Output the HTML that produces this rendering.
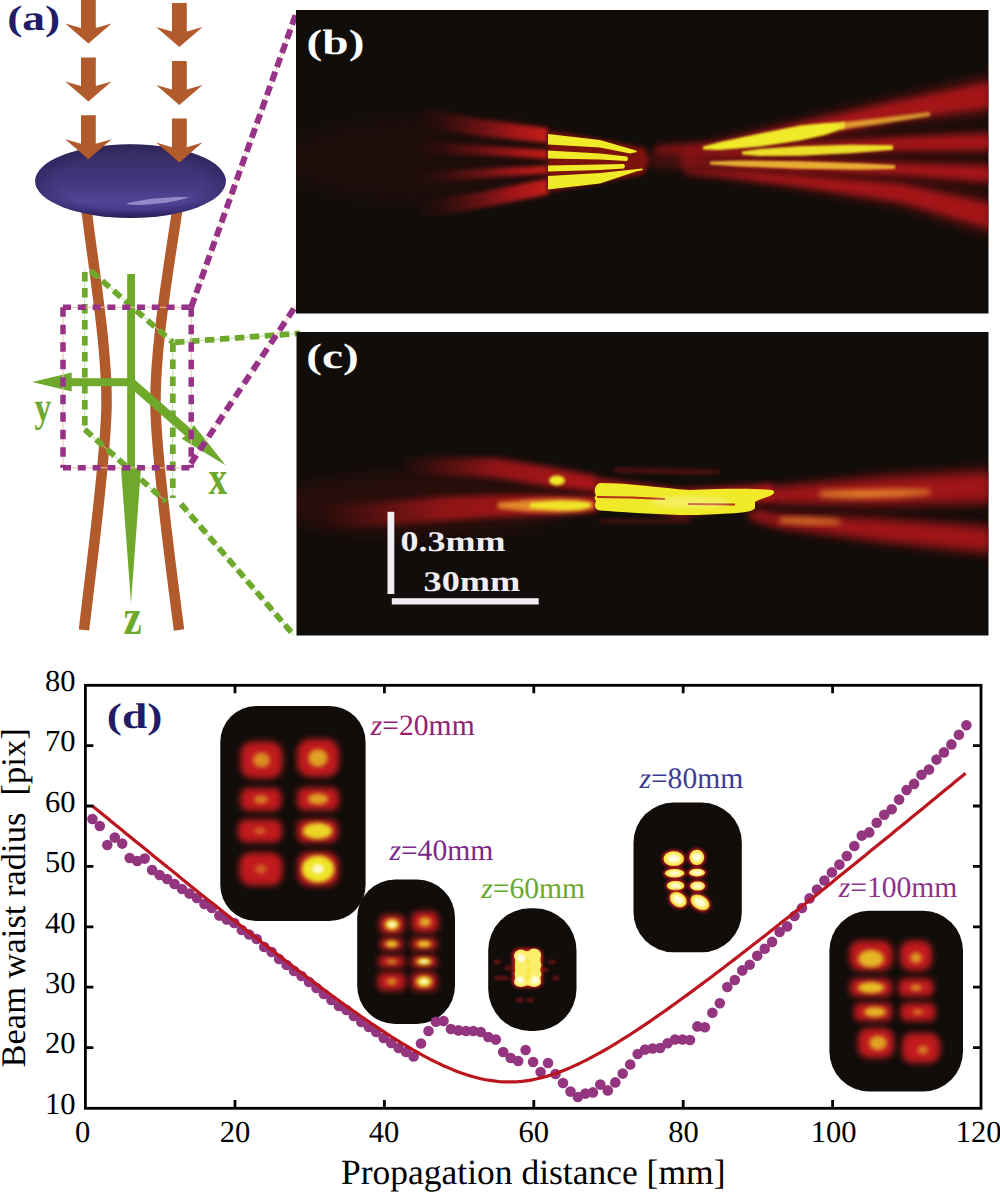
<!DOCTYPE html>
<html><head><meta charset="utf-8"><title>Figure</title>
<style>
html,body{margin:0;padding:0;background:#fff;}
svg{display:block;}
text{font-family:"Liberation Serif",serif;text-rendering:geometricPrecision;}
</style></head><body>
<svg width="1000" height="1192" viewBox="0 0 1000 1192">
<defs>
<filter id="b8" x="-50%" y="-50%" width="200%" height="200%" color-interpolation-filters="sRGB"><feGaussianBlur stdDeviation="8"/></filter>
<filter id="b5" x="-50%" y="-50%" width="200%" height="200%" color-interpolation-filters="sRGB"><feGaussianBlur stdDeviation="5"/></filter>
<filter id="b4" x="-50%" y="-50%" width="200%" height="200%" color-interpolation-filters="sRGB"><feGaussianBlur stdDeviation="4"/></filter>
<filter id="b3" x="-50%" y="-50%" width="200%" height="200%" color-interpolation-filters="sRGB"><feGaussianBlur stdDeviation="3"/></filter>
<filter id="b2" x="-50%" y="-50%" width="200%" height="200%" color-interpolation-filters="sRGB"><feGaussianBlur stdDeviation="2"/></filter>
<filter id="b15" x="-50%" y="-50%" width="200%" height="200%" color-interpolation-filters="sRGB"><feGaussianBlur stdDeviation="1.5"/></filter>
<filter id="b1" x="-50%" y="-50%" width="200%" height="200%" color-interpolation-filters="sRGB"><feGaussianBlur stdDeviation="1"/></filter>
<filter id="b07" x="-50%" y="-50%" width="200%" height="200%" color-interpolation-filters="sRGB"><feGaussianBlur stdDeviation="0.7"/></filter>
<linearGradient id="lens" x1="0" y1="0" x2="0" y2="1">
<stop offset="0" stop-color="#342a5e"/><stop offset="0.45" stop-color="#41347a"/><stop offset="0.78" stop-color="#514496"/><stop offset="0.9" stop-color="#45398a"/><stop offset="1" stop-color="#2c245a"/>
</linearGradient>
<radialGradient id="lensv" cx="0.5" cy="0.5" r="0.5">
<stop offset="0.75" stop-color="#1c1440" stop-opacity="0"/><stop offset="1" stop-color="#1c1440" stop-opacity="0.3"/>
</radialGradient>
<linearGradient id="fadeL" gradientUnits="userSpaceOnUse" x1="415" y1="0" x2="548" y2="0"><stop offset="0" stop-color="#b4171b" stop-opacity="0"/><stop offset="0.2" stop-color="#b4171b" stop-opacity="0.12"/><stop offset="0.45" stop-color="#b4171b" stop-opacity="0.45"/><stop offset="0.75" stop-color="#b4171b" stop-opacity="0.9"/><stop offset="1" stop-color="#c42018" stop-opacity="1"/></linearGradient>
<linearGradient id="fadeL2" gradientUnits="userSpaceOnUse" x1="400" y1="0" x2="597" y2="0"><stop offset="0" stop-color="#b4171b" stop-opacity="0"/><stop offset="0.5" stop-color="#b4171b" stop-opacity="0.85"/><stop offset="1" stop-color="#b4171b" stop-opacity="1"/></linearGradient>
<linearGradient id="fadeL3" gradientUnits="userSpaceOnUse" x1="320" y1="0" x2="597" y2="0"><stop offset="0" stop-color="#b4171b" stop-opacity="0"/><stop offset="0.45" stop-color="#b4171b" stop-opacity="0.8"/><stop offset="1" stop-color="#b4171b" stop-opacity="1"/></linearGradient>
<linearGradient id="fadeR" gradientUnits="userSpaceOnUse" x1="640" y1="0" x2="988" y2="0"><stop offset="0" stop-color="#b4171b" stop-opacity="0.5"/><stop offset="0.3" stop-color="#b4171b" stop-opacity="0.95"/><stop offset="1" stop-color="#b4171b" stop-opacity="0.95"/></linearGradient>
<clipPath id="cb"><rect x="296" y="10" width="692.5" height="303.5"/></clipPath>
<clipPath id="cc"><rect x="296.5" y="332" width="692" height="303.5"/></clipPath>
</defs>

<path d="M86,205 C92,260 110,360 106,420 C103,480 92,560 84,630" fill="none" stroke="#b15a2b" stroke-width="10.5"/>
<path d="M178,205 C170,260 152,360 156,420 C159,480 170,560 179,630" fill="none" stroke="#b15a2b" stroke-width="10.5"/>
<ellipse cx="130.5" cy="181.1" rx="95.4" ry="36.9" fill="url(#lens)"/>
<ellipse cx="130.5" cy="181.1" rx="95.4" ry="36.9" fill="url(#lensv)"/>
<path d="M126,203.5 C145,198.5 170,196.5 189,197 C180,201 160,204 140,205 C133,205 128,204.5 126,203.5 Z" fill="#a194d0" opacity="0.85" filter="url(#b07)"/>
<path d="M81.0,-0.5 L95.80000000000001,-0.5 L95.80000000000001,28.1 L111.60000000000001,23.5 L88.4,43.5 L65.2,23.5 L81.0,28.1 Z" fill="#b15a2b"/>
<path d="M81.0,57.400000000000006 L95.80000000000001,57.400000000000006 L95.80000000000001,86.0 L111.60000000000001,81.4 L88.4,101.4 L65.2,81.4 L81.0,86.0 Z" fill="#b15a2b"/>
<path d="M81.0,115.19999999999999 L95.80000000000001,115.19999999999999 L95.80000000000001,143.79999999999998 L111.60000000000001,139.2 L88.4,159.2 L65.2,139.2 L81.0,143.79999999999998 Z" fill="#b15a2b"/>
<path d="M171.95,3 L186.75,3 L186.75,31.6 L202.54999999999998,27 L179.35,47 L156.15,27 L171.95,31.6 Z" fill="#b15a2b"/>
<path d="M171.95,61 L186.75,61 L186.75,89.6 L202.54999999999998,85 L179.35,105 L156.15,85 L171.95,89.6 Z" fill="#b15a2b"/>
<path d="M171.95,118.6 L186.75,118.6 L186.75,147.2 L202.54999999999998,142.6 L179.35,162.6 L156.15,142.6 L171.95,147.2 Z" fill="#b15a2b"/>
<g fill="none" stroke="#b8dca0" stroke-width="1"><path d="M84.8,269 V429.5 L166,501.7"/><path d="M89.4,269 L172.8,342.4 V498"/><path d="M172.8,342.6 L300,333.3"/><path d="M181,504 L294,635.5"/></g>
<g fill="none" stroke="#6ea92b" stroke-width="5.8"><path d="M84.8,272 V429.5" stroke-dasharray="9.5 6.5"/><path d="M84.8,429.5 L166,501.7" stroke-dasharray="9.5 5.5"/><path d="M91,271 L172.8,342.4" stroke-dasharray="9.5 5.5"/><path d="M172.8,342.4 V498" stroke-dasharray="9.5 7.5"/><path d="M175,342.4 L300,333.3" stroke-dasharray="9.5 5.5"/><path d="M181,504 L294,635.5" stroke-dasharray="9.5 5"/></g>
<g fill="#6ea92b"><rect x="127.2" y="274" width="7.8" height="196"/><path d="M121,468 L141,468 L131,603 Z"/><rect x="70" y="378.2" width="65" height="8"/><path d="M71.7,372.4 L71.7,391.5 L32.1,382.1 Z"/></g>
<path d="M134.0,378.9 L191.1,429.0 L193.8,424.9 L225.6,465.2 L181.6,438.8 L185.2,435.8 L128.0,385.7 Z" fill="#6ea92b"/>
<g fill="none" stroke="#f2c0a8" stroke-width="1"><rect x="63" y="307.2" width="128.2" height="160.6"/><line x1="191.2" y1="307.2" x2="297" y2="11"/><line x1="190.8" y1="463.5" x2="296" y2="305.5"/></g>
<g fill="none" stroke="#963287" stroke-width="5.5"><path d="M63,307.2 H191.2" stroke-dasharray="8 6.8"/><path d="M63,467.8 H191.2" stroke-dasharray="8 6.8"/><path d="M63,307.2 V467.8" stroke-dasharray="9.5 8"/><path d="M191.2,307.2 V467.8" stroke-dasharray="9.5 8"/><path d="M191.2,307.2 L297,11" stroke-dasharray="10 5" stroke-width="6"/><path d="M190.8,463.5 L296,305.5" stroke-dasharray="10 6" stroke-width="6"/></g>
<text x="0" y="0" font-weight="bold" font-size="48" fill="#6ea92b" transform="translate(208.5,493.5) scale(0.78,1)">x</text>
<text x="0" y="0" font-weight="bold" font-size="42" fill="#6ea92b" transform="translate(34.5,421) scale(0.8,1)">y</text>
<text x="0" y="0" font-weight="bold" font-size="50" fill="#6ea92b" transform="translate(123.5,633.5) scale(0.82,1)">z</text>
<text x="0" y="0" font-weight="bold" font-size="35.5" fill="#201c68" transform="translate(7.2,30) scale(1.28,1)">(a)</text>
<rect x="296" y="10" width="692.5" height="303.5" fill="#110d0a"/>
<g clip-path="url(#cb)">
<ellipse cx="440" cy="160" rx="160" ry="45" fill="#b4171b" opacity="0.07" filter="url(#b8)"/>
<path d="M415.0,106.5 L481.0,119.2 L548.0,128.0 L548.0,143.0 L481.0,136.2 L415.0,125.5 Z" fill="url(#fadeL)" opacity="1.0" filter="url(#b2)"/>
<path d="M415.0,140.5 L494.0,146.5 L548.0,150.0 L548.0,159.0 L494.0,155.5 L415.0,153.5 Z" fill="url(#fadeL)" opacity="1.0" filter="url(#b2)"/>
<path d="M415.0,171.5 L494.0,168.0 L548.0,165.5 L548.0,173.5 L494.0,177.0 L415.0,184.5 Z" fill="url(#fadeL)" opacity="1.0" filter="url(#b2)"/>
<path d="M415.0,201.5 L481.0,192.0 L548.0,178.5 L548.0,194.5 L481.0,208.0 L415.0,220.5 Z" fill="url(#fadeL)" opacity="1.0" filter="url(#b2)"/>
<path d="M548,131 L600,139 L645,148 L648,160 L645,174 L600,183 L548,192 Z" fill="#7c120c" filter="url(#b2)"/>
<ellipse cx="672" cy="160" rx="30" ry="10" fill="#b4171b" opacity="0.28" filter="url(#b4)"/>
<polygon points="548,134 600,140 636,150.5 637,152 630,153.5 600,147.5 548,144.5" fill="#f0ea28" filter="url(#b07)"/>
<polygon points="548,150.5 600,153.5 627,156.5 628,158.8 627,161 600,159.5 548,158.6" fill="#f0ea28" filter="url(#b07)"/>
<polygon points="548,165.5 600,164.6 624,164 625,166.2 624,168.5 600,170 548,171.5" fill="#f0ea28" filter="url(#b07)"/>
<polygon points="548,176 600,173 642,168.5 643,170 636,171.5 600,183.5 548,189.5" fill="#f0ea28" filter="url(#b07)"/>
<path d="M655.0,145.2 L712.0,140.4 L800.0,117.8 L900.0,94.4 L990.0,73.4 L990.0,116.6 L900.0,125.6 L800.0,144.2 L712.0,153.6 L655.0,154.8 Z" fill="#b4171b" opacity="0.35" filter="url(#b5)"/>
<path d="M680.0,151.4 L740.0,147.6 L800.0,141.1 L900.0,133.2 L990.0,128.8 L990.0,155.2 L900.0,154.8 L800.0,157.9 L740.0,158.4 L680.0,158.6 Z" fill="#b4171b" opacity="0.35" filter="url(#b5)"/>
<path d="M680.0,159.4 L716.0,158.7 L800.0,157.1 L900.0,159.4 L990.0,160.8 L990.0,187.2 L900.0,178.6 L800.0,173.9 L716.0,168.3 L680.0,166.6 Z" fill="#b4171b" opacity="0.35" filter="url(#b5)"/>
<path d="M685.0,167.4 L740.0,169.0 L800.0,172.0 L900.0,178.6 L990.0,195.6 L990.0,236.4 L900.0,207.4 L800.0,190.0 L740.0,181.0 L685.0,174.6 Z" fill="#b4171b" opacity="0.35" filter="url(#b5)"/>
<path d="M655.0,147.2 L712.0,143.2 L800.0,123.3 L900.0,100.9 L990.0,82.4 L990.0,107.6 L900.0,119.1 L800.0,138.7 L712.0,150.8 L655.0,152.8 Z" fill="url(#fadeR)" opacity="0.9" filter="url(#b3)"/>
<path d="M680.0,152.9 L740.0,149.8 L800.0,144.6 L900.0,137.7 L990.0,134.3 L990.0,149.7 L900.0,150.3 L800.0,154.4 L740.0,156.2 L680.0,157.1 Z" fill="url(#fadeR)" opacity="0.9" filter="url(#b3)"/>
<path d="M680.0,160.9 L716.0,160.7 L800.0,160.6 L900.0,163.4 L990.0,166.3 L990.0,181.7 L900.0,174.6 L800.0,170.4 L716.0,166.3 L680.0,165.1 Z" fill="url(#fadeR)" opacity="0.9" filter="url(#b3)"/>
<path d="M685.0,168.9 L740.0,171.5 L800.0,175.8 L900.0,184.6 L990.0,204.1 L990.0,227.9 L900.0,201.4 L800.0,186.2 L740.0,178.5 L685.0,173.1 Z" fill="url(#fadeR)" opacity="0.9" filter="url(#b3)"/>
<path d="M703.0,146.5 L720.0,142.0 L760.0,133.5 L800.0,125.5 L825.0,123.0 L845.0,122.0 L845.0,128.0 L825.0,135.0 L800.0,140.5 L760.0,146.5 L720.0,150.0 L703.0,149.5 Z" fill="#f0ea28" opacity="1.0" filter="url(#b1)"/>
<path d="M840.0,122.5 L880.0,118.0 L930.0,112.0 L930.0,116.0 L880.0,124.0 L840.0,129.5 Z" fill="#f8c838" opacity="0.75" filter="url(#b15)"/>
<path d="M742.0,151.5 L760.0,149.0 L800.0,146.2 L850.0,144.8 L893.0,145.3 L893.0,149.7 L850.0,153.2 L800.0,155.8 L760.0,156.0 L742.0,154.5 Z" fill="#f0ea28" opacity="0.95" filter="url(#b1)"/>
<path d="M710.0,161.5 L740.0,160.5 L800.0,161.2 L860.0,163.3 L895.0,165.0 L895.0,169.0 L860.0,169.7 L800.0,168.8 L740.0,166.5 L710.0,164.5 Z" fill="#f8c838" opacity="0.85" filter="url(#b1)"/>
</g>
<text x="0" y="0" font-weight="bold" font-size="35.3" fill="#fff" transform="translate(306.6,53.8) scale(1.34,1)">(b)</text>
<rect x="296.5" y="332" width="692" height="303.5" fill="#110d0a"/>
<g clip-path="url(#cc)">
<ellipse cx="420" cy="505" rx="150" ry="32" fill="#b4171b" opacity="0.14" filter="url(#b8)"/>
<path d="M400.0,457.0 L496.0,458.0 L550.0,467.0 L597.0,476.0 L597.0,492.0 L550.0,487.0 L496.0,478.0 L400.0,473.0 Z" fill="url(#fadeL2)" opacity="0.95" filter="url(#b3)"/>
<path d="M300.0,506.0 L380.0,502.0 L440.0,497.0 L496.0,495.0 L550.0,495.0 L597.0,496.0 L597.0,512.0 L550.0,515.0 L496.0,517.0 L440.0,521.0 L380.0,526.0 L300.0,530.0 Z" fill="url(#fadeL3)" opacity="0.95" filter="url(#b3)"/>
<path d="M498.0,502.5 L530.0,499.5 L560.0,498.5 L580.0,499.5 L594.0,502.0 L594.0,508.0 L580.0,511.5 L560.0,512.5 L530.0,511.5 L498.0,508.5 Z" fill="#f0a030" opacity="0.85" filter="url(#b2)"/>
<path d="M530.0,503.0 L560.0,501.0 L578.0,501.5 L590.0,503.0 L590.0,507.0 L578.0,509.5 L560.0,510.0 L530.0,508.0 Z" fill="#f0ea28" opacity="0.95" filter="url(#b15)"/>
<ellipse cx="557" cy="480.5" rx="8" ry="5" fill="#f0ea28" filter="url(#b15)"/>
<path d="M615.0,468.0 L700.0,470.0 L720.0,470.5 L720.0,473.5 L700.0,474.0 L615.0,472.0 Z" fill="#b4171b" opacity="0.5" filter="url(#b2)"/>
<path d="M600.0,519.0 L690.0,519.0 L690.0,523.0 L600.0,523.0 Z" fill="#b4171b" opacity="0.35" filter="url(#b2)"/>
<path d="M760.0,486.8 L780.0,484.2 L880.0,473.0 L990.0,466.6 L990.0,507.4 L880.0,509.0 L780.0,505.8 L760.0,501.2 Z" fill="#b4171b" opacity="0.4" filter="url(#b5)"/>
<path d="M750.0,508.0 L780.0,512.6 L880.0,515.6 L990.0,523.2 L990.0,556.8 L880.0,544.4 L780.0,529.4 L750.0,520.0 Z" fill="#b4171b" opacity="0.4" filter="url(#b5)"/>
<path d="M760.0,489.5 L780.0,488.2 L880.0,479.8 L990.0,474.2 L990.0,499.8 L880.0,502.2 L780.0,501.8 L760.0,498.5 Z" fill="#b4171b" opacity="0.8" filter="url(#b4)"/>
<path d="M750.0,510.2 L780.0,515.8 L880.0,521.0 L990.0,529.5 L990.0,550.5 L880.0,539.0 L780.0,526.2 L750.0,517.8 Z" fill="#b4171b" opacity="0.8" filter="url(#b4)"/>
<path d="M820.0,491.5 L860.0,490.0 L900.0,489.5 L930.0,490.0 L930.0,494.0 L900.0,496.5 L860.0,498.0 L820.0,496.5 Z" fill="#f4a030" opacity="0.85" filter="url(#b3)"/>
<path d="M780.0,517.5 L810.0,518.0 L840.0,520.0 L840.0,524.0 L810.0,524.0 L780.0,522.5 Z" fill="#f4a030" opacity="0.8" filter="url(#b3)"/>
<path d="M596.0,478.0 L680.0,489.0 L772.0,484.0 L772.0,500.0 L680.0,517.0 L596.0,498.0 Z" fill="#b4171b" opacity="0.9" filter="url(#b3)"/>
<path d="M600,483 C630,483 660,488 690,490 C720,489 750,488 772,490 C776,492 774,494 770,496 C764,498 758,500 755,502 L755,508 C753,512 740,513 720,514 C705,515 690,515 680,515 C650,514 620,512 600,510.5 C595,510 594,505 596,501 C594,498 594,497 596,496 C594,492 594,485 600,483 Z" fill="#f0ea28" filter="url(#b07)"/>
<path d="M597,497 C620,497 640,497.5 665,499 M688,504 L735,504.5" stroke="#b01c14" stroke-width="2.2" fill="none" opacity="0.9" filter="url(#b07)"/>
<ellipse cx="690" cy="502" rx="40" ry="6" fill="#fff8c8" opacity="0.35" filter="url(#b2)"/>
</g>
<text x="0" y="0" font-weight="bold" font-size="35.3" fill="#fff" transform="translate(306.2,367.6) scale(1.34,1)">(c)</text>
<rect x="387.5" y="511.8" width="6.8" height="82.2" fill="#f0eef2"/>
<rect x="391.8" y="598.2" width="146.9" height="6.3" fill="#f0eef2"/>
<text x="0" y="0" font-weight="bold" font-size="28.5" fill="#f0eef2" transform="translate(400.5,551.3) scale(1.264,1)">0.3mm</text>
<text x="0" y="0" font-weight="bold" font-size="28.5" fill="#f0eef2" transform="translate(423.5,591) scale(1.273,1)">30mm</text>
<rect x="220.3" y="706" width="145.3" height="215.0" rx="36" ry="36" fill="#110d0a"/>
<rect x="357.2" y="879.5" width="97.8" height="144.5" rx="38" ry="38" fill="#110d0a"/>
<rect x="488.2" y="908.2" width="88.3" height="122.8" rx="42" ry="42" fill="#110d0a"/>
<rect x="633.5" y="802.6" width="108.3" height="149.6" rx="40" ry="40" fill="#110d0a"/>
<rect x="829.4" y="910.7" width="133.6" height="180.8" rx="40" ry="40" fill="#110d0a"/>
<rect x="240.5" y="741.5" width="42.0" height="37.0" rx="12.9" fill="#c01a1e" filter="url(#b3)"/><ellipse cx="261.5" cy="760.0" rx="8.7" ry="7.6" fill="#f0ea28" opacity="0.55" filter="url(#b2)"/>
<rect x="297.0" y="739.0" width="42.0" height="38.0" rx="13.3" fill="#c01a1e" filter="url(#b3)"/><ellipse cx="318.0" cy="758.0" rx="9.8" ry="8.9" fill="#f0ea28" opacity="0.65" filter="url(#b2)"/>
<rect x="240.5" y="788.0" width="41.0" height="23.0" rx="8.0" fill="#c01a1e" filter="url(#b3)"/><ellipse cx="261.0" cy="799.5" rx="7.2" ry="4.0" fill="#f0ea28" opacity="0.50" filter="url(#b2)"/>
<rect x="297.0" y="787.5" width="42.0" height="23.0" rx="8.0" fill="#c01a1e" filter="url(#b3)"/><ellipse cx="318.0" cy="799.0" rx="10.3" ry="5.6" fill="#f0ea28" opacity="0.65" filter="url(#b2)"/>
<rect x="238.0" y="819.5" width="44.0" height="23.0" rx="8.0" fill="#c01a1e" filter="url(#b3)"/><ellipse cx="260.0" cy="831.0" rx="6.1" ry="3.2" fill="#f0ea28" opacity="0.35" filter="url(#b2)"/>
<rect x="297.0" y="819.5" width="41.0" height="23.0" rx="8.0" fill="#c01a1e" filter="url(#b3)"/><ellipse cx="317.5" cy="831.0" rx="14.7" ry="8.2" fill="#f0ea28" opacity="0.90" filter="url(#b2)"/>
<rect x="239.5" y="852.5" width="43.0" height="33.0" rx="11.5" fill="#c01a1e" filter="url(#b3)"/><ellipse cx="261.0" cy="869.0" rx="5.9" ry="4.5" fill="#f0ea28" opacity="0.35" filter="url(#b2)"/>
<rect x="297.5" y="852.0" width="41.0" height="34.0" rx="11.9" fill="#c01a1e" filter="url(#b3)"/><ellipse cx="318.0" cy="869.0" rx="16.3" ry="13.5" fill="#f0ea28" opacity="0.98" filter="url(#b2)"/><ellipse cx="318" cy="869" rx="6.1" ry="5.1" fill="#fffbe0" opacity="0.8" filter="url(#b15)"/>
<rect x="379.5" y="914.9" width="25.0" height="19.0" rx="6.6" fill="#c01a1e" filter="url(#b3)"/><ellipse cx="392.0" cy="924.4" rx="7.2" ry="5.5" fill="#f0ea28" opacity="0.95" filter="url(#b2)"/><ellipse cx="392" cy="924.4" rx="3.8" ry="2.9" fill="#fffbe0" opacity="0.8" filter="url(#b15)"/>
<rect x="411.5" y="911.5" width="27.0" height="21.0" rx="7.3" fill="#c01a1e" filter="url(#b3)"/><ellipse cx="425.0" cy="922.0" rx="6.1" ry="4.7" fill="#f0ea28" opacity="0.70" filter="url(#b2)"/>
<rect x="380.1" y="938.2" width="23.0" height="11.6" rx="4.1" fill="#c01a1e" filter="url(#b3)"/><ellipse cx="391.6" cy="944.0" rx="6.3" ry="3.2" fill="#f0ea28" opacity="0.90" filter="url(#b2)"/>
<rect x="411.0" y="938.2" width="26.0" height="11.6" rx="4.1" fill="#c01a1e" filter="url(#b3)"/><ellipse cx="424.0" cy="944.0" rx="7.2" ry="3.2" fill="#f0ea28" opacity="0.90" filter="url(#b2)"/>
<rect x="378.6" y="955.7" width="26.0" height="11.6" rx="4.1" fill="#c01a1e" filter="url(#b3)"/><ellipse cx="391.6" cy="961.5" rx="5.2" ry="2.3" fill="#f0ea28" opacity="0.60" filter="url(#b2)"/>
<rect x="411.0" y="955.7" width="26.0" height="11.6" rx="4.1" fill="#c01a1e" filter="url(#b3)"/><ellipse cx="424.0" cy="961.5" rx="7.6" ry="3.4" fill="#f0ea28" opacity="0.97" filter="url(#b2)"/><ellipse cx="424" cy="961.5" rx="3.9" ry="1.7" fill="#fffbe0" opacity="0.8" filter="url(#b15)"/>
<rect x="377.6" y="972.6" width="28.0" height="18.0" rx="6.3" fill="#c01a1e" filter="url(#b3)"/><ellipse cx="391.6" cy="981.6" rx="5.2" ry="3.4" fill="#f0ea28" opacity="0.55" filter="url(#b2)"/>
<rect x="411.0" y="972.6" width="26.0" height="18.0" rx="6.3" fill="#c01a1e" filter="url(#b3)"/><ellipse cx="424.0" cy="981.6" rx="7.8" ry="5.4" fill="#f0ea28" opacity="1.00" filter="url(#b2)"/><ellipse cx="424" cy="981.6" rx="3.9" ry="2.7" fill="#fffbe0" opacity="0.8" filter="url(#b15)"/>
<rect x="512" y="948" width="31" height="40" rx="7" fill="#b4171b" filter="url(#b15)"/>
<rect x="515" y="951" width="25.5" height="34.5" rx="6" fill="#f6e440" filter="url(#b07)"/>
<ellipse cx="521" cy="956" rx="7" ry="6.5" fill="#fbef6a" filter="url(#b07)"/>
<ellipse cx="534" cy="955" rx="7" ry="6.5" fill="#fbef6a" filter="url(#b07)"/>
<ellipse cx="522" cy="966" rx="6.5" ry="5" fill="#fbef6a" filter="url(#b07)"/>
<ellipse cx="535" cy="965" rx="6.5" ry="5" fill="#fbef6a" filter="url(#b07)"/>
<ellipse cx="521" cy="974" rx="6.5" ry="5" fill="#fbef6a" filter="url(#b07)"/>
<ellipse cx="535" cy="974" rx="6.5" ry="5" fill="#fbef6a" filter="url(#b07)"/>
<ellipse cx="521" cy="982" rx="7" ry="5" fill="#fbef6a" filter="url(#b07)"/>
<ellipse cx="534" cy="982" rx="7" ry="5" fill="#fbef6a" filter="url(#b07)"/>
<ellipse cx="521" cy="958" rx="4" ry="4" fill="#fffbe0" filter="url(#b1)"/><ellipse cx="535" cy="980" rx="4" ry="4" fill="#fffbe0" filter="url(#b1)"/><ellipse cx="520" cy="980" rx="4" ry="3.5" fill="#fffbe0" filter="url(#b1)"/>
<ellipse cx="497" cy="962" rx="4" ry="2.5" fill="#b4171b" opacity="0.45" filter="url(#b1)"/>
<ellipse cx="505" cy="978" rx="4" ry="2.5" fill="#b4171b" opacity="0.45" filter="url(#b1)"/>
<ellipse cx="552" cy="962" rx="4" ry="2.5" fill="#b4171b" opacity="0.45" filter="url(#b1)"/>
<ellipse cx="556" cy="978" rx="4" ry="2.5" fill="#b4171b" opacity="0.45" filter="url(#b1)"/>
<ellipse cx="520" cy="1000" rx="4" ry="2.5" fill="#b4171b" opacity="0.45" filter="url(#b1)"/>
<ellipse cx="530" cy="1000" rx="4" ry="2.5" fill="#b4171b" opacity="0.45" filter="url(#b1)"/>
<ellipse cx="498" cy="978" rx="4" ry="2.5" fill="#b4171b" opacity="0.45" filter="url(#b1)"/>
<ellipse cx="545" cy="970" rx="4" ry="2.5" fill="#b4171b" opacity="0.45" filter="url(#b1)"/>
<ellipse cx="508" cy="968" rx="4" ry="2.5" fill="#b4171b" opacity="0.45" filter="url(#b1)"/>
<ellipse cx="673.7" cy="858.7" rx="12.0" ry="9.2" fill="#b4171b" filter="url(#b15)"/><ellipse cx="673.7" cy="858.7" rx="10.2" ry="7.4" fill="#fbe84a" filter="url(#b07)"/><ellipse cx="673.7" cy="858.7" rx="6.6" ry="4.4" fill="#fffbd8" filter="url(#b1)"/>
<ellipse cx="696.8" cy="857.3" rx="9.2" ry="9.4" fill="#b4171b" filter="url(#b15)"/><ellipse cx="696.8" cy="857.3" rx="7.4" ry="7.6" fill="#fbe84a" filter="url(#b07)"/><ellipse cx="696.8" cy="857.3" rx="4.8" ry="4.6" fill="#fffbd8" filter="url(#b1)"/>
<ellipse cx="674.6" cy="873.3" rx="11.5" ry="6.0" fill="#b4171b" filter="url(#b15)"/><ellipse cx="674.6" cy="873.3" rx="9.7" ry="4.2" fill="#fbe84a" filter="url(#b07)"/><ellipse cx="674.6" cy="873.3" rx="6.3" ry="2.5" fill="#fffbd8" filter="url(#b1)"/>
<ellipse cx="697" cy="872.6" rx="9.8" ry="5.6" fill="#b4171b" filter="url(#b15)"/><ellipse cx="697" cy="872.6" rx="8.0" ry="3.8" fill="#fbe84a" filter="url(#b07)"/><ellipse cx="697" cy="872.6" rx="5.2" ry="2.3" fill="#fffbd8" filter="url(#b1)"/>
<ellipse cx="675.6" cy="885.7" rx="10.5" ry="6.6" fill="#b4171b" filter="url(#b15)"/><ellipse cx="675.6" cy="885.7" rx="8.7" ry="4.8" fill="#fbe84a" filter="url(#b07)"/><ellipse cx="675.6" cy="885.7" rx="5.7" ry="2.9" fill="#fffbd8" filter="url(#b1)"/>
<ellipse cx="697.6" cy="886" rx="9.2" ry="6.3" fill="#b4171b" filter="url(#b15)"/><ellipse cx="697.6" cy="886" rx="7.4" ry="4.5" fill="#fbe84a" filter="url(#b07)"/><ellipse cx="697.6" cy="886" rx="4.8" ry="2.7" fill="#fffbd8" filter="url(#b1)"/>
<ellipse cx="678.2" cy="899.6" rx="10.8" ry="8.6" fill="#b4171b" filter="url(#b15)" transform="rotate(35 678.2 899.6)"/><ellipse cx="678.2" cy="899.6" rx="9.0" ry="6.8" fill="#fbe84a" filter="url(#b07)" transform="rotate(35 678.2 899.6)"/><ellipse cx="678.2" cy="899.6" rx="5.9" ry="4.1" fill="#fffbd8" filter="url(#b1)" transform="rotate(35 678.2 899.6)"/>
<ellipse cx="700" cy="902.4" rx="11.8" ry="8.6" fill="#b4171b" filter="url(#b15)" transform="rotate(30 700 902.4)"/><ellipse cx="700" cy="902.4" rx="10.0" ry="6.8" fill="#fbe84a" filter="url(#b07)" transform="rotate(30 700 902.4)"/><ellipse cx="700" cy="902.4" rx="6.5" ry="4.1" fill="#fffbd8" filter="url(#b1)" transform="rotate(30 700 902.4)"/>
<rect x="849.5" y="940.7" width="43.0" height="30.0" rx="10.5" fill="#c01a1e" filter="url(#b3)"/><ellipse cx="871.0" cy="958.7" rx="12.8" ry="8.9" fill="#f0ea28" opacity="0.75" filter="url(#b2)"/>
<rect x="900.0" y="940.7" width="32.0" height="30.0" rx="10.5" fill="#c01a1e" filter="url(#b3)"/><ellipse cx="916.0" cy="957.7" rx="5.8" ry="5.4" fill="#f0ea28" opacity="0.60" filter="url(#b2)"/>
<rect x="850.0" y="978.6" width="42.0" height="18.0" rx="6.3" fill="#c01a1e" filter="url(#b3)"/><ellipse cx="871.0" cy="987.6" rx="13.1" ry="5.6" fill="#f0ea28" opacity="0.80" filter="url(#b2)"/>
<rect x="898.5" y="978.6" width="35.0" height="18.0" rx="6.3" fill="#c01a1e" filter="url(#b3)"/><ellipse cx="916.0" cy="987.6" rx="5.9" ry="3.0" fill="#f0ea28" opacity="0.55" filter="url(#b2)"/>
<rect x="854.0" y="1003.0" width="38.0" height="18.0" rx="6.3" fill="#c01a1e" filter="url(#b3)"/><ellipse cx="875.0" cy="1012.0" rx="10.8" ry="5.1" fill="#f0ea28" opacity="0.75" filter="url(#b2)"/>
<rect x="900.5" y="1003.0" width="35.0" height="18.0" rx="6.3" fill="#c01a1e" filter="url(#b3)"/><ellipse cx="918.0" cy="1012.0" rx="5.1" ry="2.6" fill="#f0ea28" opacity="0.45" filter="url(#b2)"/>
<rect x="858.0" y="1028.0" width="36.0" height="30.0" rx="10.5" fill="#c01a1e" filter="url(#b3)"/><ellipse cx="878.0" cy="1043.0" rx="8.8" ry="7.3" fill="#f0ea28" opacity="0.65" filter="url(#b2)"/>
<rect x="902.0" y="1033.0" width="38.0" height="30.0" rx="10.5" fill="#c01a1e" filter="url(#b3)"/><ellipse cx="923.0" cy="1050.0" rx="5.6" ry="4.4" fill="#f0ea28" opacity="0.45" filter="url(#b2)"/>
<g fill="#93367f">
<circle cx="92.4" cy="819" r="5.3"/>
<circle cx="99.8" cy="826" r="5.3"/>
<circle cx="107.3" cy="845" r="5.3"/>
<circle cx="114.8" cy="837.6" r="5.3"/>
<circle cx="122.2" cy="843.6" r="5.3"/>
<circle cx="129.7" cy="858" r="5.3"/>
<circle cx="137.2" cy="861" r="5.3"/>
<circle cx="144.7" cy="858.6" r="5.3"/>
<circle cx="152.1" cy="870" r="5.3"/>
<circle cx="159.6" cy="875" r="5.3"/>
<circle cx="167.1" cy="879" r="5.3"/>
<circle cx="174.5" cy="884" r="5.3"/>
<circle cx="182.0" cy="889" r="5.3"/>
<circle cx="189.5" cy="893.6" r="5.3"/>
<circle cx="196.9" cy="898" r="5.3"/>
<circle cx="204.4" cy="904" r="5.3"/>
<circle cx="211.9" cy="908" r="5.3"/>
<circle cx="219.4" cy="915.6" r="5.3"/>
<circle cx="226.8" cy="919.6" r="5.3"/>
<circle cx="234.3" cy="923" r="5.3"/>
<circle cx="241.8" cy="930" r="5.3"/>
<circle cx="249.2" cy="934.5" r="5.3"/>
<circle cx="256.7" cy="939" r="5.3"/>
<circle cx="264.2" cy="947" r="5.3"/>
<circle cx="271.6" cy="952" r="5.3"/>
<circle cx="279.1" cy="959" r="5.3"/>
<circle cx="286.6" cy="965" r="5.3"/>
<circle cx="294.1" cy="971" r="5.3"/>
<circle cx="301.5" cy="976" r="5.3"/>
<circle cx="309.0" cy="982" r="5.3"/>
<circle cx="316.5" cy="988" r="5.3"/>
<circle cx="323.9" cy="994" r="5.3"/>
<circle cx="331.4" cy="1000" r="5.3"/>
<circle cx="338.9" cy="1006" r="5.3"/>
<circle cx="346.4" cy="1010" r="5.3"/>
<circle cx="353.8" cy="1016" r="5.3"/>
<circle cx="361.3" cy="1022" r="5.3"/>
<circle cx="368.8" cy="1027" r="5.3"/>
<circle cx="376.2" cy="1032" r="5.3"/>
<circle cx="383.7" cy="1038" r="5.3"/>
<circle cx="391.2" cy="1043" r="5.3"/>
<circle cx="398.6" cy="1048" r="5.3"/>
<circle cx="406.1" cy="1052" r="5.3"/>
<circle cx="413.6" cy="1056.5" r="5.3"/>
<circle cx="421.0" cy="1043.5" r="5.3"/>
<circle cx="428.5" cy="1031" r="5.3"/>
<circle cx="436.0" cy="1021.8" r="5.3"/>
<circle cx="443.5" cy="1021" r="5.3"/>
<circle cx="450.9" cy="1029" r="5.3"/>
<circle cx="458.4" cy="1030.4" r="5.3"/>
<circle cx="465.9" cy="1031" r="5.3"/>
<circle cx="473.3" cy="1031" r="5.3"/>
<circle cx="480.8" cy="1032" r="5.3"/>
<circle cx="488.3" cy="1037" r="5.3"/>
<circle cx="495.8" cy="1039.6" r="5.3"/>
<circle cx="503.2" cy="1052" r="5.3"/>
<circle cx="510.7" cy="1058" r="5.3"/>
<circle cx="518.2" cy="1061" r="5.3"/>
<circle cx="525.6" cy="1050" r="5.3"/>
<circle cx="533.1" cy="1062" r="5.3"/>
<circle cx="540.6" cy="1072" r="5.3"/>
<circle cx="548.0" cy="1063" r="5.3"/>
<circle cx="555.5" cy="1074" r="5.3"/>
<circle cx="563.0" cy="1083" r="5.3"/>
<circle cx="570.5" cy="1091.6" r="5.3"/>
<circle cx="577.9" cy="1097" r="5.3"/>
<circle cx="585.4" cy="1093.6" r="5.3"/>
<circle cx="592.9" cy="1092.4" r="5.3"/>
<circle cx="600.3" cy="1084.6" r="5.3"/>
<circle cx="607.8" cy="1090.4" r="5.3"/>
<circle cx="615.3" cy="1082.4" r="5.3"/>
<circle cx="622.7" cy="1073.6" r="5.3"/>
<circle cx="630.2" cy="1064.5" r="5.3"/>
<circle cx="637.7" cy="1054" r="5.3"/>
<circle cx="645.1" cy="1049.6" r="5.3"/>
<circle cx="652.6" cy="1048.5" r="5.3"/>
<circle cx="660.1" cy="1048" r="5.3"/>
<circle cx="667.6" cy="1043.2" r="5.3"/>
<circle cx="675.0" cy="1039.5" r="5.3"/>
<circle cx="682.5" cy="1039.5" r="5.3"/>
<circle cx="690.0" cy="1040" r="5.3"/>
<circle cx="697.4" cy="1026.4" r="5.3"/>
<circle cx="704.9" cy="1027.2" r="5.3"/>
<circle cx="712.4" cy="1012.8" r="5.3"/>
<circle cx="719.8" cy="1003.2" r="5.3"/>
<circle cx="727.3" cy="987" r="5.3"/>
<circle cx="734.8" cy="980" r="5.3"/>
<circle cx="742.3" cy="970.4" r="5.3"/>
<circle cx="749.7" cy="964.8" r="5.3"/>
<circle cx="757.2" cy="955.7" r="5.3"/>
<circle cx="764.7" cy="948.8" r="5.3"/>
<circle cx="772.1" cy="941.9" r="5.3"/>
<circle cx="779.6" cy="932" r="5.3"/>
<circle cx="787.1" cy="926.4" r="5.3"/>
<circle cx="794.5" cy="916" r="5.3"/>
<circle cx="802.0" cy="908" r="5.3"/>
<circle cx="809.5" cy="898.4" r="5.3"/>
<circle cx="817.0" cy="889.6" r="5.3"/>
<circle cx="824.4" cy="880.5" r="5.3"/>
<circle cx="831.9" cy="872.4" r="5.3"/>
<circle cx="839.4" cy="864.6" r="5.3"/>
<circle cx="846.8" cy="856" r="5.3"/>
<circle cx="854.3" cy="846" r="5.3"/>
<circle cx="861.8" cy="835.6" r="5.3"/>
<circle cx="869.2" cy="832.4" r="5.3"/>
<circle cx="876.7" cy="822.8" r="5.3"/>
<circle cx="884.2" cy="814.8" r="5.3"/>
<circle cx="891.7" cy="809.2" r="5.3"/>
<circle cx="899.1" cy="799.6" r="5.3"/>
<circle cx="906.6" cy="790" r="5.3"/>
<circle cx="914.1" cy="783.9" r="5.3"/>
<circle cx="921.5" cy="774.8" r="5.3"/>
<circle cx="929.0" cy="769.5" r="5.3"/>
<circle cx="936.5" cy="759.6" r="5.3"/>
<circle cx="943.9" cy="752.4" r="5.3"/>
<circle cx="951.4" cy="744.4" r="5.3"/>
<circle cx="958.9" cy="734.8" r="5.3"/>
<circle cx="966.4" cy="725.2" r="5.3"/>
</g>
<polyline points="92.3,805.9 96.1,808.9 99.8,812.0 103.5,815.1 107.3,818.1 111.0,821.2 114.7,824.2 118.5,827.3 122.2,830.3 125.9,833.4 129.7,836.4 133.4,839.5 137.1,842.5 140.9,845.6 144.6,848.6 148.3,851.6 152.1,854.7 155.8,857.7 159.6,860.7 163.3,863.8 167.0,866.8 170.8,869.8 174.5,872.8 178.2,875.8 182.0,878.9 185.7,881.9 189.4,884.9 193.2,887.9 196.9,890.9 200.6,893.9 204.4,896.9 208.1,899.9 211.8,902.8 215.6,905.8 219.3,908.8 223.0,911.8 226.8,914.7 230.5,917.7 234.3,920.7 238.0,923.6 241.7,926.6 245.5,929.5 249.2,932.4 252.9,935.4 256.7,938.3 260.4,941.2 264.1,944.1 267.9,947.0 271.6,949.9 275.3,952.8 279.1,955.7 282.8,958.6 286.5,961.5 290.3,964.3 294.0,967.2 297.7,970.0 301.5,972.9 305.2,975.7 309.0,978.5 312.7,981.3 316.4,984.1 320.2,986.9 323.9,989.7 327.6,992.4 331.4,995.2 335.1,997.9 338.8,1000.6 342.6,1003.3 346.3,1006.0 350.0,1008.6 353.8,1011.3 357.5,1013.9 361.2,1016.5 365.0,1019.1 368.7,1021.6 372.4,1024.2 376.2,1026.7 379.9,1029.2 383.7,1031.6 387.4,1034.1 391.1,1036.5 394.9,1038.8 398.6,1041.2 402.3,1043.5 406.1,1045.7 409.8,1047.9 413.5,1050.1 417.3,1052.2 421.0,1054.3 424.7,1056.4 428.5,1058.3 432.2,1060.3 435.9,1062.1 439.7,1063.9 443.4,1065.7 447.1,1067.3 450.9,1068.9 454.6,1070.5 458.4,1071.9 462.1,1073.3 465.8,1074.5 469.6,1075.7 473.3,1076.8 477.0,1077.8 480.8,1078.7 484.5,1079.5 488.2,1080.2 492.0,1080.7 495.7,1081.2 499.4,1081.6 503.2,1081.8 506.9,1081.9 510.6,1081.9 514.4,1081.8 518.1,1081.6 521.8,1081.3 525.6,1080.8 529.3,1080.3 533.1,1079.6 536.8,1078.8 540.5,1077.9 544.3,1077.0 548.0,1075.9 551.7,1074.7 555.5,1073.5 559.2,1072.1 562.9,1070.7 566.7,1069.2 570.4,1067.6 574.1,1065.9 577.9,1064.2 581.6,1062.4 585.3,1060.6 589.1,1058.7 592.8,1056.7 596.5,1054.7 600.3,1052.6 604.0,1050.5 607.8,1048.3 611.5,1046.1 615.2,1043.8 619.0,1041.5 622.7,1039.2 626.4,1036.9 630.2,1034.5 633.9,1032.0 637.6,1029.6 641.4,1027.1 645.1,1024.6 648.8,1022.1 652.6,1019.5 656.3,1016.9 660.0,1014.3 663.8,1011.7 667.5,1009.1 671.2,1006.4 675.0,1003.7 678.7,1001.0 682.5,998.3 686.2,995.6 689.9,992.9 693.7,990.1 697.4,987.3 701.1,984.6 704.9,981.8 708.6,979.0 712.3,976.2 716.1,973.3 719.8,970.5 723.5,967.7 727.3,964.8 731.0,961.9 734.7,959.1 738.5,956.2 742.2,953.3 745.9,950.4 749.7,947.5 753.4,944.6 757.2,941.7 760.9,938.8 764.6,935.9 768.4,932.9 772.1,930.0 775.8,927.0 779.6,924.1 783.3,921.1 787.0,918.2 790.8,915.2 794.5,912.3 798.2,909.3 802.0,906.3 805.7,903.3 809.4,900.3 813.2,897.4 816.9,894.4 820.6,891.4 824.4,888.4 828.1,885.4 831.9,882.4 835.6,879.3 839.3,876.3 843.1,873.3 846.8,870.3 850.5,867.3 854.3,864.3 858.0,861.2 861.7,858.2 865.5,855.2 869.2,852.1 872.9,849.1 876.7,846.1 880.4,843.0 884.1,840.0 887.9,836.9 891.6,833.9 895.3,830.8 899.1,827.8 902.8,824.7 906.6,821.7 910.3,818.6 914.0,815.6 917.8,812.5 921.5,809.4 925.2,806.4 929.0,803.3 932.7,800.2 936.4,797.2 940.2,794.1 943.9,791.0 947.6,788.0 951.4,784.9 955.1,781.8 958.8,778.7 962.6,775.7 965.6,773.2" fill="none" stroke="#bb151d" stroke-width="3.2"/>
<rect x="85.4" y="685.3" width="895.6" height="423" fill="none" stroke="#000" stroke-width="2.8"/>
<path d="M235.0,1108 V1100 M235.0,685.3 V693.3 M384.4,1108 V1100 M384.4,685.3 V693.3 M533.8,1108 V1100 M533.8,685.3 V693.3 M683.2,1108 V1100 M683.2,685.3 V693.3 M832.6,1108 V1100 M832.6,685.3 V693.3 M85.4,1047.6 H93.4 M981,1047.6 H973 M85.4,987.2 H93.4 M981,987.2 H973 M85.4,926.8 H93.4 M981,926.8 H973 M85.4,866.4 H93.4 M981,866.4 H973 M85.4,806.0 H93.4 M981,806.0 H973 M85.4,745.6 H93.4 M981,745.6 H973" stroke="#000" stroke-width="2.8" fill="none"/>
<text x="82.6" y="1141.5" font-size="30.5" text-anchor="middle">0</text>
<text x="235.1" y="1141.5" font-size="30.5" text-anchor="middle">20</text>
<text x="384.1" y="1141.5" font-size="30.5" text-anchor="middle">40</text>
<text x="533.8" y="1141.5" font-size="30.5" text-anchor="middle">60</text>
<text x="683.4" y="1141.5" font-size="30.5" text-anchor="middle">80</text>
<text x="833.5" y="1141.5" font-size="30.5" text-anchor="middle">100</text>
<text x="978.7" y="1141.5" font-size="30.5" text-anchor="middle">120</text>
<text x="75.5" y="1113.8" font-size="30.5" text-anchor="end">10</text>
<text x="75.5" y="1053.4" font-size="30.5" text-anchor="end">20</text>
<text x="75.5" y="993.0" font-size="30.5" text-anchor="end">30</text>
<text x="75.5" y="932.6" font-size="30.5" text-anchor="end">40</text>
<text x="75.5" y="872.2" font-size="30.5" text-anchor="end">50</text>
<text x="75.5" y="811.8" font-size="30.5" text-anchor="end">60</text>
<text x="75.5" y="751.4" font-size="30.5" text-anchor="end">70</text>
<text x="75.5" y="691.0" font-size="30.5" text-anchor="end">80</text>
<text x="341" y="1184" font-size="35.5">Propagation distance [mm]</text>
<text x="0" y="0" font-size="34.5" transform="translate(25.2,1067.5) rotate(-90)" xml:space="preserve">Beam waist radius  [pix]</text>
<text x="0" y="0" font-weight="bold" font-size="35.8" fill="#201c68" transform="translate(106.8,727.5) scale(1.27,1)">(d)</text>
<text x="370.8" y="735" font-size="29.6" fill="#962070"><tspan font-style="italic">z</tspan>=20mm</text>
<text x="389.4" y="860.2" font-size="29.6" fill="#7a2a88"><tspan font-style="italic">z</tspan>=40mm</text>
<text x="481.2" y="898.4" font-size="29.6" fill="#6aa830"><tspan font-style="italic">z</tspan>=60mm</text>
<text x="639.4" y="787.8" font-size="29.6" fill="#3c3c96"><tspan font-style="italic">z</tspan>=80mm</text>
<text x="838.7" y="896.6" font-size="29.6" fill="#8c328c"><tspan font-style="italic">z</tspan>=100mm</text>
</svg></body></html>
